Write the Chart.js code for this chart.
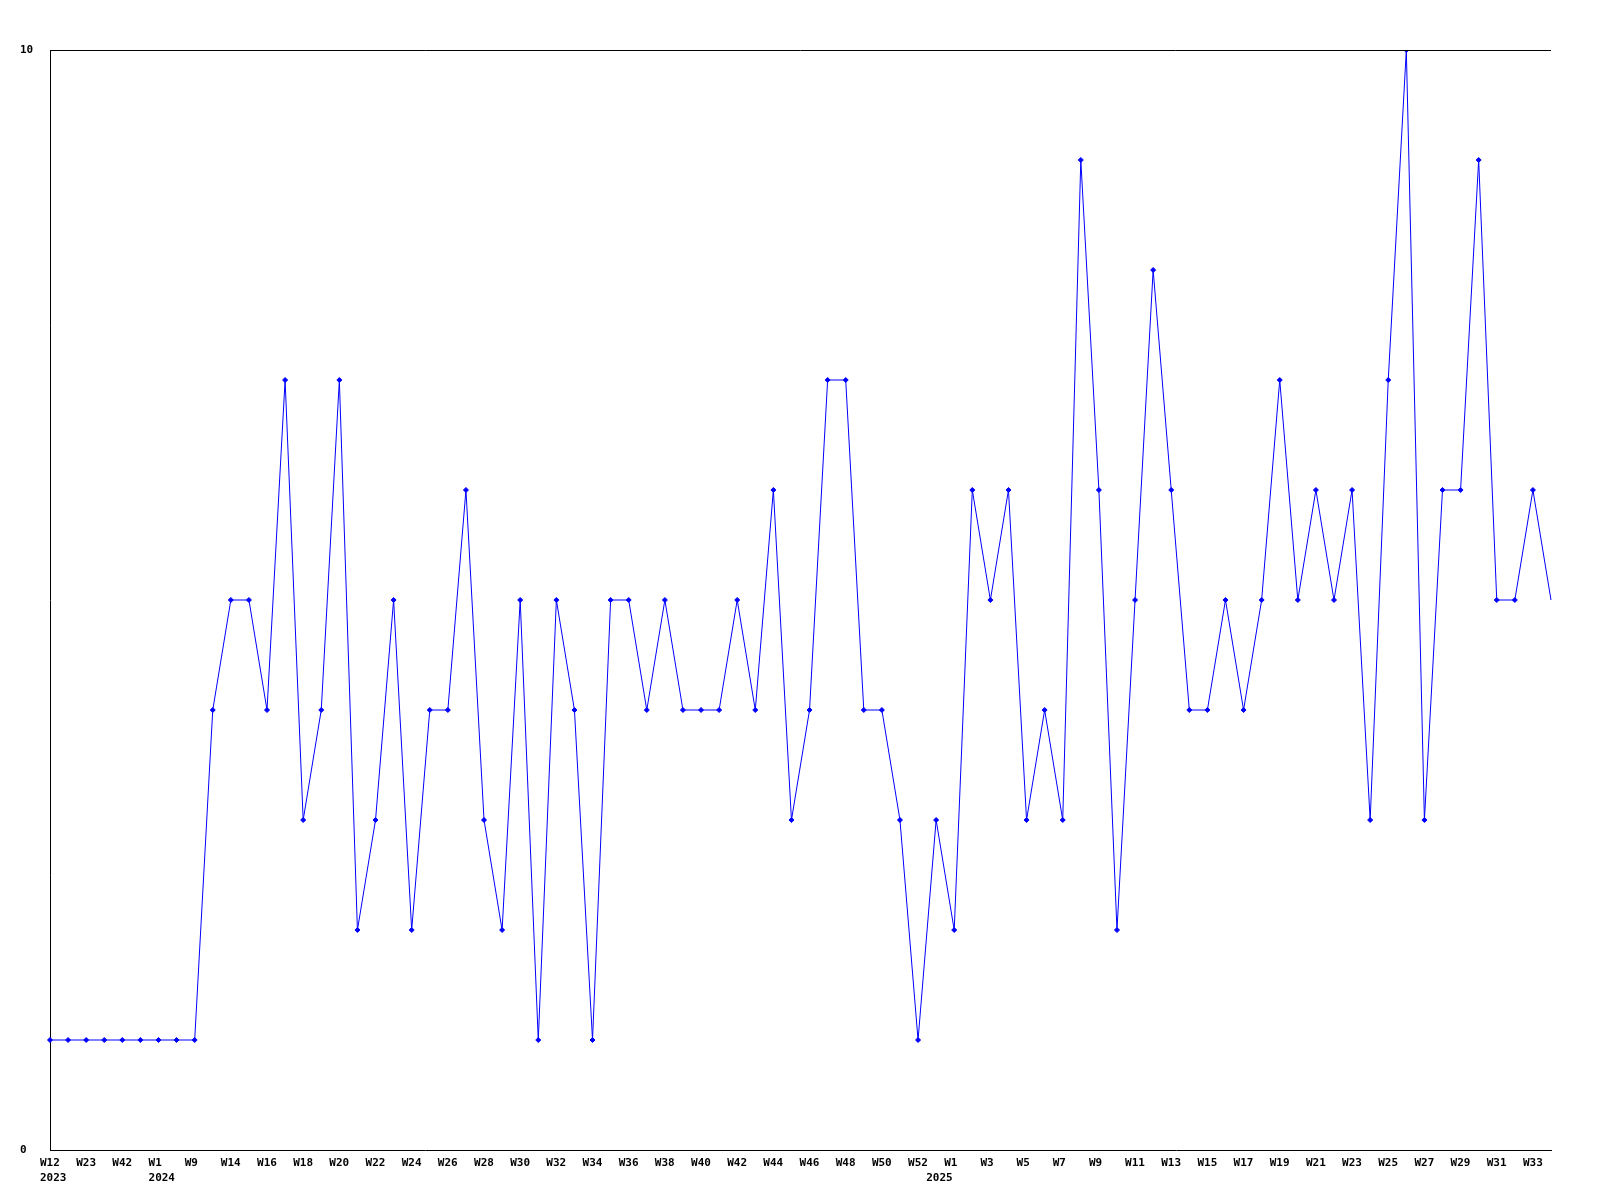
<!DOCTYPE html>
<html>
<head>
<meta charset="utf-8">
<script src="https://cdn.jsdelivr.net/npm/chart.js@4/dist/chart.umd.min.js"></script>
<style>
  body { margin: 0; background: #fff; }
</style>
</head>
<body>
<canvas id="weeklyChart" width="1600" height="1200"></canvas>
<script>
// week of each point (odd ones before W14 are not labelled on the axis, guessed)
const weeks = [
  "W12", "W17", "W23", "W31", "W42", "W48", "W1", "W5", "W9", "W13",
  "W14", "W15", "W16", "W17", "W18", "W19", "W20", "W21", "W22", "W23",
  "W24", "W25", "W26", "W27", "W28", "W29", "W30", "W31", "W32", "W33",
  "W34", "W35", "W36", "W37", "W38", "W39", "W40", "W41", "W42", "W43",
  "W44", "W45", "W46", "W47", "W48", "W49", "W50", "W51", "W52", "W1",
  "W1", "W2", "W3", "W4", "W5", "W6", "W7", "W8", "W9", "W10",
  "W11", "W12", "W13", "W14", "W15", "W16", "W17", "W18", "W19", "W20",
  "W21", "W22", "W23", "W24", "W25", "W26", "W27", "W28", "W29", "W30",
  "W31", "W32", "W33", "W34",
];

// year shown under the first point of each year
const years = { 0: "2023", 6: "2024", 49: "2025" };

const counts = [
  1, 1, 1, 1, 1, 1, 1, 1, 1, 4,
  5, 5, 4, 7, 3, 4, 7, 2, 3, 5,
  2, 4, 4, 6, 3, 2, 5, 1, 5, 4,
  1, 5, 5, 4, 5, 4, 4, 4, 5, 4,
  6, 3, 4, 7, 7, 4, 4, 3, 1, 3,
  2, 6, 5, 6, 3, 4, 3, 9, 6, 2,
  5, 8, 6, 4, 4, 5, 4, 5, 7, 5,
  6, 5, 6, 3, 7, 10, 3, 6, 6, 9,
  5, 5, 6, 5,
];

const yTicks = [0, 10];

const labels = weeks.map((w, i) => (years[i] ? [w, years[i]] : w));

const tickFont = { family: "'DejaVu Sans Mono', monospace", size: 11, weight: "bold", lineHeight: 1.36 };

// top border of the plot area
const topBorder = {
  id: "topBorder",
  afterDraw(chart) {
    const { ctx, chartArea } = chart;
    ctx.save();
    ctx.strokeStyle = "#000";
    ctx.lineWidth = 1;
    ctx.beginPath();
    ctx.moveTo(chartArea.left, chartArea.top + 0.5);
    ctx.lineTo(chartArea.right, chartArea.top + 0.5);
    ctx.stroke();
    ctx.restore();
  },
};

const weeklyChart = document.getElementById("weeklyChart");

new Chart(weeklyChart, {
  type: "line",
  data: {
    labels: labels,
    datasets: [
      {
        data: counts,
        borderColor: "#0000ff",
        backgroundColor: "#0000ff",
        borderWidth: 1,
        pointStyle: "rectRot",
        pointRadius: counts.map((v, i) => (i === counts.length - 1 ? 0 : 2.5)),
        pointBorderWidth: 1,
        tension: 0,
      },
    ],
  },
  options: {
    responsive: false,
    animation: false,
    events: [],
    plugins: {
      legend: { display: false },
      tooltip: { enabled: false },
      title: { display: false },
    },
    layout: {
      padding: { left: 20, top: 50, right: 49, bottom: 0 },
    },
    scales: {
      x: {
        grid: { display: false, drawTicks: false },
        border: { color: "#000", width: 1 },
        afterFit: (axis) => {
          axis.height = 50;
        },
        ticks: {
          autoSkip: false,
          maxRotation: 0,
          minRotation: 0,
          align: "start",
          labelOffset: -10,
          padding: 6,
          color: "#000",
          font: tickFont,
          // week on every other point, year line wherever a year starts
          callback: function (value, index) {
            const lbl = this.getLabelForValue(value);
            const show = index % 2 === 0;
            if (Array.isArray(lbl)) {
              return [show ? lbl[0] : "", lbl[1]];
            }
            return show ? lbl : "";
          },
        },
      },
      y: {
        min: 0,
        max: 10,
        grid: { display: false, drawTicks: false },
        border: { color: "#000", width: 1 },
        afterBuildTicks: (axis) => {
          axis.ticks = yTicks.map((v) => ({ value: v }));
        },
        afterFit: (axis) => {
          axis.width = 30;
        },
        ticks: {
          crossAlign: "far",
          padding: 17,
          color: "#000",
          font: tickFont,
        },
      },
    },
  },
  plugins: [topBorder],
});
</script>
</body>
</html>
